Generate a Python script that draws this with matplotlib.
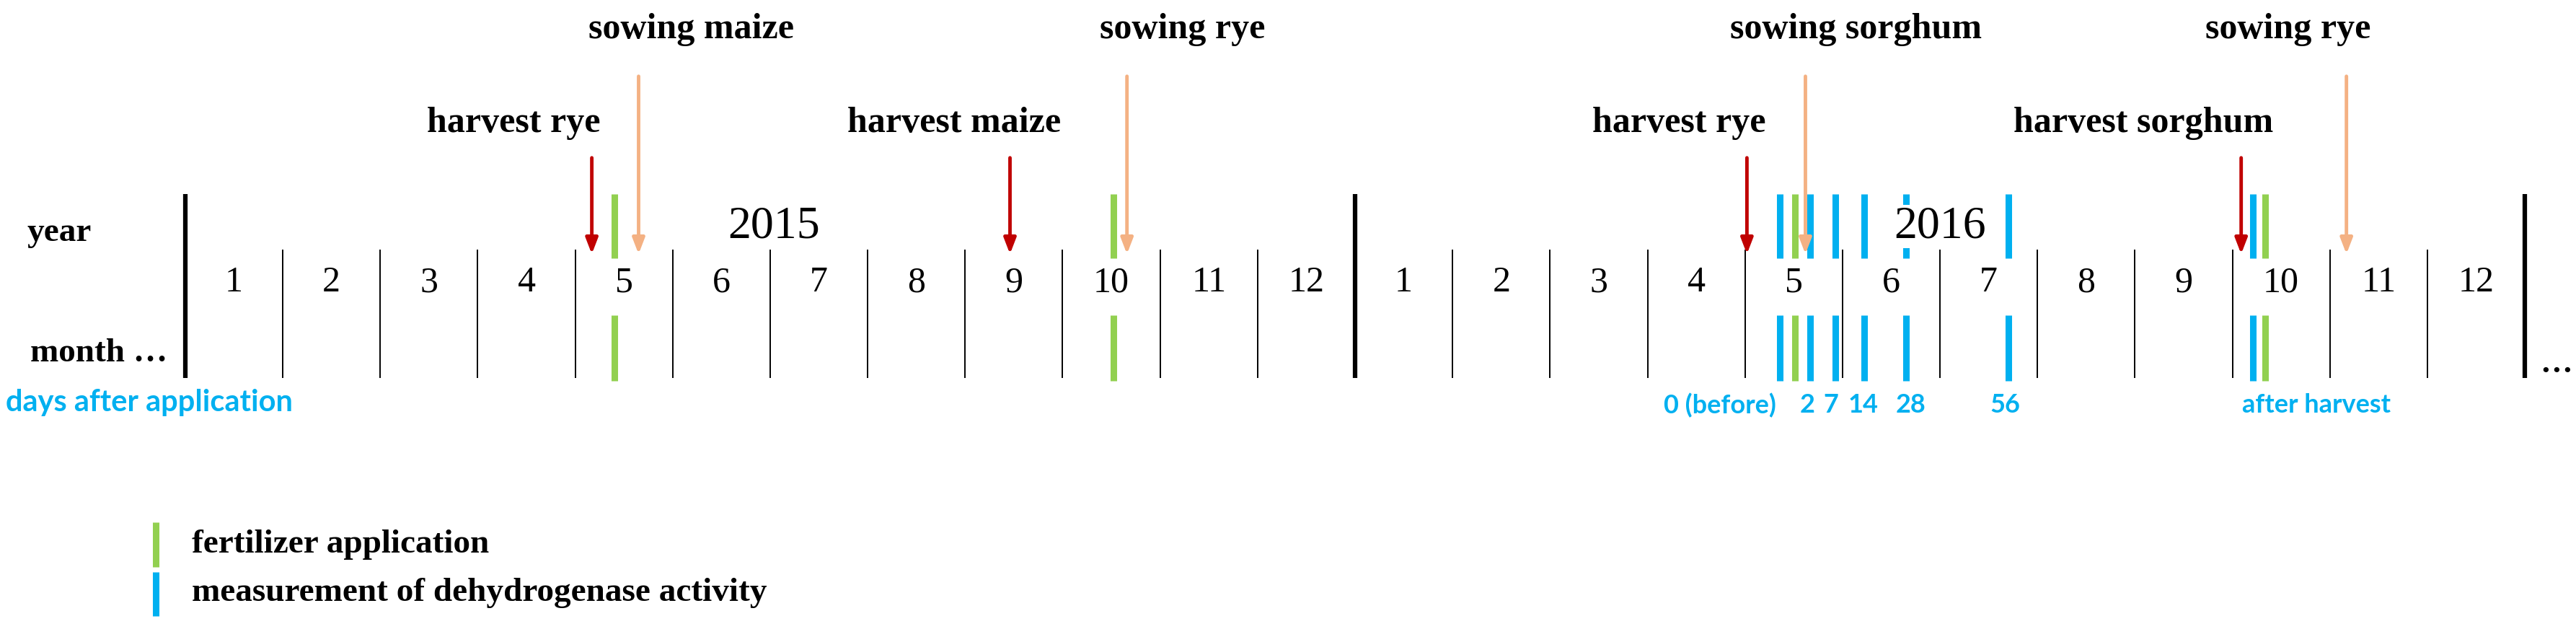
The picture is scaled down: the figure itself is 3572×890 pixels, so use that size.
import matplotlib
matplotlib.use("Agg")
import matplotlib.pyplot as plt

# ---- data (x in months since Jan 2015; 0 = start of Jan 2015) ----
years = ["2015", "2016"]
year_label_x = [6.04, 18.0]
month_labels = [str(m) for m in range(1, 13)] * 2
fert_2015 = [4.40, 9.52]
fert_2016 = [16.51, 21.34]
meas_2016 = [16.36, 16.67, 16.93, 17.22, 17.65, 18.70, 21.21]
harvest_labels = ["harvest rye", "harvest maize", "harvest rye", "harvest sorghum"]
harvest_x = [4.17, 8.46, 16.02, 21.09]
harvest_label_x = [3.37, 7.89, 15.32, 20.09]
sowing_labels = ["sowing maize", "sowing rye", "sowing sorghum", "sowing rye"]
sowing_x = [4.65, 9.66, 16.62, 22.17]
sowing_label_x = [5.19, 10.23, 17.14, 21.57]
day_labels = ["0 (before)", "2", "7", "14", "28", "56", "after harvest"]
day_label_x = [15.74, 16.64, 16.88, 17.21, 17.70, 18.67, 21.86]

GREEN = "#92D050"; BLUE = "#00B0F0"; RED = "#C00000"; ORANGE = "#F4B183"
SERIF = ["Liberation Serif", "DejaVu Serif"]
SANS = ["Liberation Sans Narrow", "Lato", "DejaVu Sans"]

fig = plt.figure(figsize=(35.72, 8.9), dpi=100)
ax = fig.add_axes([0, 0, 1, 1])
ax.set_xlim(-1.901, 24.525)
ax.set_ylim(890, 0)
ax.axis("off")

for b in [0, 12, 24]:
    ax.plot([b, b], [269, 524], color="black", lw=4.5, solid_capstyle="butt")
for b in range(1, 24):
    if b == 12:
        continue
    ax.plot([b, b], [346, 524], color="black", lw=1.4, solid_capstyle="butt")
for i, lab in enumerate(month_labels):
    ax.text(i + 0.5, 392, lab, ha="center", va="center", fontsize=36, family=SERIF)
ax.text(year_label_x[0], 314, years[0], ha="center", va="center", fontsize=46, family=SERIF)
ax.text(year_label_x[1], 314, years[1], ha="center", va="center", fontsize=46, family=SERIF,
        bbox=dict(facecolor="white", edgecolor="none", pad=1))
ax.text(-1.29, 323, "year", ha="center", va="center", fontsize=34, family=SERIF, fontweight="bold")
ax.text(-0.89, 490, "month …", ha="center", va="center", fontsize=34, family=SERIF, fontweight="bold")
ax.text(-1.84, 558, "days after application", ha="left", va="center", fontsize=30,
        family=SANS, fontweight="bold", color=BLUE)

def bars(xs, color):
    for x in xs:
        ax.plot([x, x], [269, 358], color=color, lw=6.5, solid_capstyle="butt", zorder=2)
        ax.plot([x, x], [437, 528], color=color, lw=6.5, solid_capstyle="butt", zorder=2)

bars(meas_2016, BLUE)
bars(fert_2015 + fert_2016, GREEN)

style = "-|>,head_width=0.5,head_length=1.3"
for x, lx, lab in zip(harvest_x, harvest_label_x, harvest_labels):
    ax.annotate("", xy=(x, 355), xytext=(x, 216),
                arrowprops=dict(arrowstyle=style, color=RED, lw=3.5), zorder=4)
    ax.text(lx, 171, lab, ha="center", va="center", fontsize=36, family=SERIF, fontweight="bold")
for x, lx, lab in zip(sowing_x, sowing_label_x, sowing_labels):
    ax.annotate("", xy=(x, 355), xytext=(x, 103),
                arrowprops=dict(arrowstyle=style, color=ORANGE, lw=3.5), zorder=4)
    ax.text(lx, 41, lab, ha="center", va="center", fontsize=36, family=SERIF, fontweight="bold")

for lab, x in zip(day_labels, day_label_x):
    ax.text(x, 562, lab, ha="center", va="center", fontsize=26, family=SANS,
            fontweight="bold", color=BLUE)

ax.text(24.32, 505, "…", ha="center", va="center", fontsize=32, family=SERIF, fontweight="bold")

lx = -0.303
ax.plot([lx, lx], [724, 786], color=GREEN, lw=6.5, solid_capstyle="butt")
ax.plot([lx, lx], [793, 854], color=BLUE, lw=6.5, solid_capstyle="butt")
ax.text(0.065, 755, "fertilizer application", ha="left", va="center", fontsize=34,
        family=SERIF, fontweight="bold")
ax.text(0.065, 822, "measurement of dehydrogenase activity", ha="left", va="center",
        fontsize=34, family=SERIF, fontweight="bold")

fig.savefig("out.png", dpi=100)
